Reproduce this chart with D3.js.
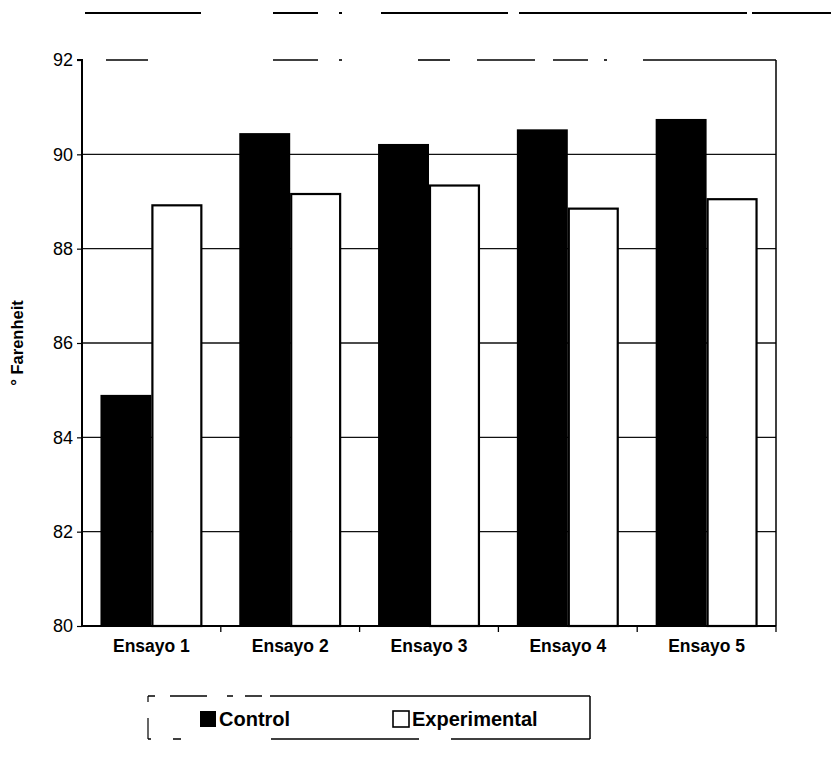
<!DOCTYPE html>
<html>
<head>
<meta charset="utf-8">
<script src="https://cdn.jsdelivr.net/npm/d3@7"></script>
<style>
  html, body { margin: 0; padding: 0; background: #fff; }
  svg { display: block; font-family: "Liberation Sans", Arial, sans-serif; }
</style>
</head>
<body>
<svg id="chart" width="831" height="772"></svg>
<script>
// Temperature per trial, Control vs Experimental
const categories = ["Ensayo 1", "Ensayo 2", "Ensayo 3", "Ensayo 4", "Ensayo 5"];
const control = [84.9, 90.45, 90.22, 90.53, 90.75];
const experimental = [88.94, 89.18, 89.36, 88.87, 89.07];
const yTicks = [80, 82, 84, 86, 88, 90, 92];
const seriesNames = ["Control", "Experimental"];
const yTitle = "° Farenheit";

const svg = d3.select("#chart");
const plot = { left: 82, right: 776, top: 60, bottom: 626 };

const x = d3.scaleBand().domain(categories).range([plot.left, plot.right]).padding(0);
const y = d3.scaleLinear().domain([80, 92]).range([plot.bottom, plot.top]);

const bw = x.bandwidth() * 0.367;
const off = (x.bandwidth() - 2 * bw) / 2;

// helper for a worn line drawn as several pieces
function worn(g, pieces, stroke) {
  g.append("g").selectAll("line")
    .data(pieces)
    .join("line")
    .attr("x1", d => d[0]).attr("y1", d => d[1])
    .attr("x2", d => d[2]).attr("y2", d => d[3])
    .attr("stroke", "#000").attr("stroke-width", stroke);
}

// Outer chart frame: only a broken top edge survives
worn(svg, [[85, 13, 201, 13], [273, 13, 318, 13], [339, 13, 342, 13], [381, 13, 508, 13],
           [519, 13, 747, 13], [752, 13, 831, 13]], 2);

// Horizontal gridlines
svg.append("g").selectAll("line")
  .data(yTicks.filter(t => t > 80 && t < 92))
  .join("line")
  .attr("x1", plot.left).attr("x2", plot.right)
  .attr("y1", d => y(d)).attr("y2", d => y(d))
  .attr("stroke", "#111").attr("stroke-width", 1.3);

// Plot area top edge (broken) and right edge
worn(svg, [[106, 60, 148, 60], [273, 60, 318, 60], [339, 60, 342, 60], [418, 60, 450, 60],
           [477, 60, 535, 60], [553, 60, 588, 60], [604, 60, 607, 60], [643, 60, plot.right, 60]], 1.6);
svg.append("line")
  .attr("x1", plot.right).attr("x2", plot.right)
  .attr("y1", plot.top).attr("y2", plot.bottom)
  .attr("stroke", "#000").attr("stroke-width", 1.5);

// Bars
const groups = svg.append("g").selectAll("g")
  .data(categories)
  .join("g");

groups.append("rect")
  .attr("x", (d, i) => x(d) + off)
  .attr("y", (d, i) => y(control[i]))
  .attr("width", bw)
  .attr("height", (d, i) => y(80) - y(control[i]))
  .attr("fill", "#000");

groups.append("rect")
  .attr("x", (d, i) => x(d) + off + bw + 1)
  .attr("y", (d, i) => y(experimental[i]) + 1)
  .attr("width", bw - 2)
  .attr("height", (d, i) => y(80) - y(experimental[i]) - 1)
  .attr("fill", "#fff")
  .attr("stroke", "#000")
  .attr("stroke-width", 2.2);

// Y axis
const yAxis = d3.axisLeft(y).tickValues(yTicks).tickSize(5).tickPadding(4).tickFormat(d3.format("d"));
const gy = svg.append("g").attr("transform", `translate(${plot.left},0)`).call(yAxis);
gy.select(".domain").attr("stroke", "#000").attr("stroke-width", 2).attr("d", `M-5,${plot.top}H0V${plot.bottom}`);
gy.selectAll(".tick line").attr("stroke", "#000").attr("stroke-width", 1.2);
gy.selectAll(".tick text")
  .attr("fill", "#000")
  .style("font-size", "18px")
  .style("font-family", "'Liberation Sans', Arial, sans-serif");

// X axis
const xAxis = d3.axisBottom(x).tickSize(0).tickPadding(20);
const gx = svg.append("g").attr("transform", `translate(0,${plot.bottom})`).call(xAxis);
gx.select(".domain").attr("stroke", "#000").attr("stroke-width", 2).attr("d", `M${plot.left},0H${plot.right}`);
gx.selectAll(".tick text")
  .attr("fill", "#000")
  .attr("dy", "0.35em")
  .attr("y", 20)
  .style("font-size", "17.5px")
  .style("font-weight", "bold")
  .style("font-family", "'Liberation Sans', Arial, sans-serif");

// Category separator ticks below the axis
const bounds = categories.map(c => x(c)).concat([plot.right]).slice(1);
gx.append("g").selectAll("line")
  .data(bounds)
  .join("line")
  .attr("x1", d => d).attr("x2", d => d)
  .attr("y1", 0).attr("y2", 6)
  .attr("stroke", "#000").attr("stroke-width", 1.3);

// Y axis title
svg.append("text")
  .attr("transform", `translate(23,${(plot.top + plot.bottom) / 2}) rotate(-90)`)
  .attr("text-anchor", "middle")
  .style("font-size", "16.5px")
  .style("font-weight", "bold")
  .text(yTitle);

// Legend box (worn edges)
const lg = svg.append("g").attr("transform", "translate(148,696)");
const lw = 442, lh = 43;
worn(lg, [[0, 0, 7, 0], [22, 0, 59, 0], [79, 0, 85, 0], [97, 0, 114, 0], [122, 0, lw, 0]], 1.5);
worn(lg, [[0, lh, 3, lh], [25, lh, 33, lh], [123, lh, 271, lh], [303, lh, lw, lh]], 1.5);
worn(lg, [[lw, 0, lw, lh]], 1.5);
worn(lg, [[0, 0, 0, 6], [0, 22, 0, lh]], 1.2);

const items = lg.selectAll("g.item")
  .data(seriesNames)
  .join("g")
  .attr("class", "item")
  .attr("transform", (d, i) => `translate(${i === 0 ? 52 : 245},15)`);
items.append("rect")
  .attr("x", 0).attr("y", 0)
  .attr("width", 16).attr("height", 16)
  .attr("fill", (d, i) => i === 0 ? "#000" : "#fff")
  .attr("stroke", "#000")
  .attr("stroke-width", (d, i) => i === 0 ? 0 : 1.6);
items.append("text")
  .attr("x", 19).attr("y", 15)
  .style("font-size", "20px")
  .style("font-weight", "bold")
  .text(d => d);
</script>
</body>
</html>
